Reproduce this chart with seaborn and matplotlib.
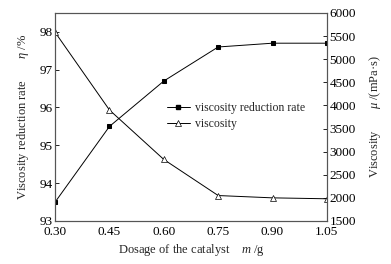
import matplotlib
matplotlib.use("Agg")
import matplotlib.pyplot as plt
import seaborn as sns
import pandas as pd
from matplotlib.lines import Line2D

dosage = [0.30, 0.45, 0.60, 0.75, 0.90, 1.05]
reduction_rate = [93.5, 95.5, 96.7, 97.6, 97.7, 97.7]
viscosity = [5580, 3900, 2830, 2050, 2000, 1980]
xticks = [0.30, 0.45, 0.60, 0.75, 0.90, 1.05]
xtick_labels = ["0.30", "0.45", "0.60", "0.75", "0.90", "1.05"]

sns.set_theme(style="white")
plt.rcParams['font.family'] = ['Liberation Serif', 'DejaVu Serif']
plt.rcParams['mathtext.fontset'] = 'custom'
plt.rcParams['mathtext.it'] = 'Liberation Serif:italic'
plt.rcParams['mathtext.rm'] = 'Liberation Serif'

df = pd.DataFrame({"dosage": dosage, "rate": reduction_rate, "visc": viscosity})

fig = plt.figure(figsize=(3.91, 2.64), dpi=100)
ax = fig.add_axes([0.141, 0.163, 0.695, 0.788])
ax2 = ax.twinx()

sns.lineplot(data=df, x="dosage", y="rate", ax=ax, color="black", lw=0.7,
             marker="s", markersize=3.2, markeredgecolor="black", markerfacecolor="black")
sns.lineplot(data=df, x="dosage", y="visc", ax=ax2, color="black", lw=0.7,
             marker="^", markersize=4.2, markeredgecolor="black", markerfacecolor="white",
             markeredgewidth=0.5)

ax.set_xlim(0.30, 1.05)
ax.set_ylim(93, 98.5)
ax2.set_ylim(1500, 6000)
ax.set_xticks(xticks)
ax.set_xticklabels(xtick_labels)
ax.set_yticks([93, 94, 95, 96, 97, 98])
ax2.set_yticks([1500, 2000, 2500, 3000, 3500, 4000, 4500, 5000, 5500, 6000])

for a in (ax, ax2):
    a.tick_params(direction="in", length=3, width=0.6, labelsize=9.5, colors="black", pad=2)
    for s in a.spines.values():
        s.set_color("#555555")
        s.set_linewidth(0.8)
ax.tick_params(axis="x", pad=3.5)

ax.set_xlabel("Dosage of the catalyst    $m$ /g", fontsize=9, labelpad=3)
ax.set_ylabel("Viscosity reduction rate       $\\eta$ /%", fontsize=9, labelpad=6)
ax2.set_ylabel("Viscosity       $\\mu$ /(mPa·s)", fontsize=9, labelpad=8)

handles = [
    Line2D([], [], color="black", lw=0.7, marker="s", markersize=3.2, markerfacecolor="black"),
    Line2D([], [], color="black", lw=0.7, marker="^", markersize=4.2, markerfacecolor="white", markeredgewidth=0.5),
]
ax2.legend(handles, ["viscosity reduction rate", "viscosity"], loc="center left",
           bbox_to_anchor=(0.41, 0.505), frameon=False, fontsize=8.5,
           borderpad=0, borderaxespad=0,
           handlelength=2.0, handletextpad=0.4, labelspacing=0.3)

fig.savefig("out.png", dpi=100)
